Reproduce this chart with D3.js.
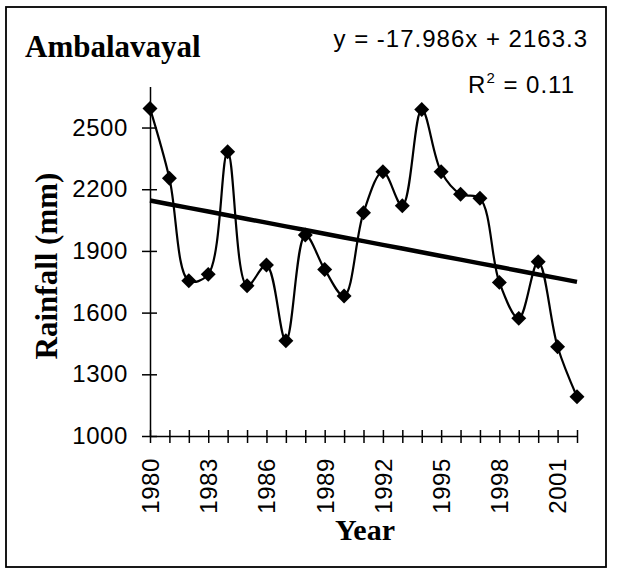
<html><head>
<script src="https://d3js.org/d3.v7.min.js"></script>
<style>
  body { margin: 0; background: #fff; }
  .tick text { font-family: "Liberation Sans", Arial, sans-serif; fill: #000; }
  .domain, .tick line { stroke: #000; stroke-width: 1.5px; }
</style>
</head>
<body>
<script>
// rainfall per year
var years = [1980, 1981, 1982, 1983, 1984, 1985, 1986, 1987, 1988, 1989, 1990, 1991,
             1992, 1993, 1994, 1995, 1996, 1997, 1998, 1999, 2000, 2001, 2002];
var rainfall = [2593, 2253, 1755, 1786, 2382, 1731, 1831, 1463, 1977, 1810, 1681, 2086,
                2285, 2120, 2588, 2285, 2176, 2156, 1747, 1572, 1847, 1434, 1191];
var yTicks = [1000, 1300, 1600, 1900, 2200, 2500];
var xLabelYears = [1980, 1983, 1986, 1989, 1992, 1995, 1998, 2001];
// trend line y = slope * n + intercept, n = 1 .. 23
var slope = -17.986, intercept = 2163.3;

var width = 617, height = 569;

var svg = d3.select("body").append("svg")
    .attr("width", width)
    .attr("height", height);

var x = d3.scaleLinear().domain([1980, 2002]).range([150, 577]);
var y = d3.scaleLinear().domain([1000, 2700]).range([436, 86.4]);

// frame
svg.append("rect")
    .attr("x", 6).attr("y", 7)
    .attr("width", 600).attr("height", 560)
    .attr("fill", "none")
    .attr("stroke", "#000")
    .attr("stroke-width", 1.8);

// y axis, ticks crossing the line
svg.append("g")
    .attr("transform", "translate(" + x(1980) + ",0)")
    .call(d3.axisLeft(y).tickValues(yTicks).tickFormat(d3.format("d"))
      .tickSizeInner(8).tickSizeOuter(0).tickPadding(14))
    .call(function(g) {
      g.selectAll(".tick text").attr("font-size", 24).attr("letter-spacing", 0.6);
      g.selectAll(".tick line").attr("x2", 7).attr("x1", -8);
    });

// x axis, one tick per year
svg.append("g")
    .attr("transform", "translate(0," + y(1000) + ")")
    .call(d3.axisBottom(x).tickValues(years).tickSizeOuter(0)
      .tickFormat(function(d) { return xLabelYears.indexOf(d) >= 0 ? String(d) : ""; }))
    .call(function(g) {
      g.selectAll(".tick line").attr("y1", -6).attr("y2", 7);
      g.selectAll(".tick text")
        .attr("font-size", 24)
        .attr("letter-spacing", 0.6)
        .attr("text-anchor", "end")
        .attr("transform", "rotate(-90)")
        .attr("x", -22)
        .attr("y", 0)
        .attr("dy", "0.35em");
    });

// trend line
svg.append("path")
    .datum(years)
    .attr("fill", "none")
    .attr("stroke", "#000")
    .attr("stroke-width", 4.5)
    .attr("d", d3.line()
      .x(function(d) { return x(d); })
      .y(function(d, i) { return y(slope * (i + 1) + intercept); }));

// smoothed data line
var pts = years.map(function(d, i) { return [d, rainfall[i]]; });
svg.append("path")
    .datum(pts)
    .attr("fill", "none")
    .attr("stroke", "#000")
    .attr("stroke-width", 2.2)
    .attr("d", d3.line()
      .curve(d3.curveCatmullRom.alpha(0.5))
      .x(function(d) { return x(d[0]); })
      .y(function(d) { return y(d[1]); }));

// diamond markers
svg.selectAll(".marker")
    .data(pts)
    .enter().append("path")
    .attr("class", "marker")
    .attr("d", d3.symbol().type(d3.symbolSquare).size(112))
    .attr("fill", "#000")
    .attr("transform", function(d) {
      return "translate(" + x(d[0]) + "," + y(d[1]) + ") rotate(45)";
    });

// titles
svg.append("text")
    .attr("x", 25).attr("y", 57)
    .attr("font-family", "Liberation Serif, Times New Roman, serif")
    .attr("font-weight", "bold")
    .attr("font-size", 31)
    .text("Ambalavayal");

svg.append("text")
    .attr("x", 588).attr("y", 47)
    .attr("text-anchor", "end")
    .attr("font-family", "Liberation Sans, Arial, sans-serif")
    .attr("font-size", 24)
    .attr("letter-spacing", 1)
    .text("y = -17.986x + 2163.3");

var r2 = svg.append("text")
    .attr("x", 575).attr("y", 93)
    .attr("text-anchor", "end")
    .attr("font-family", "Liberation Sans, Arial, sans-serif")
    .attr("font-size", 24)
    .attr("letter-spacing", 1);
r2.append("tspan").text("R");
r2.append("tspan").attr("font-size", 15).attr("dy", -10).text("2");
r2.append("tspan").attr("dy", 10).text(" = 0.11");

svg.append("text")
    .attr("transform", "translate(57,266) rotate(-90)")
    .attr("text-anchor", "middle")
    .attr("font-family", "Liberation Serif, Times New Roman, serif")
    .attr("font-weight", "bold")
    .attr("font-size", 31)
    .text("Rainfall (mm)");

svg.append("text")
    .attr("x", 365).attr("y", 540)
    .attr("text-anchor", "middle")
    .attr("font-family", "Liberation Serif, Times New Roman, serif")
    .attr("font-weight", "bold")
    .attr("font-size", 30)
    .text("Year");
</script>
</body></html>
